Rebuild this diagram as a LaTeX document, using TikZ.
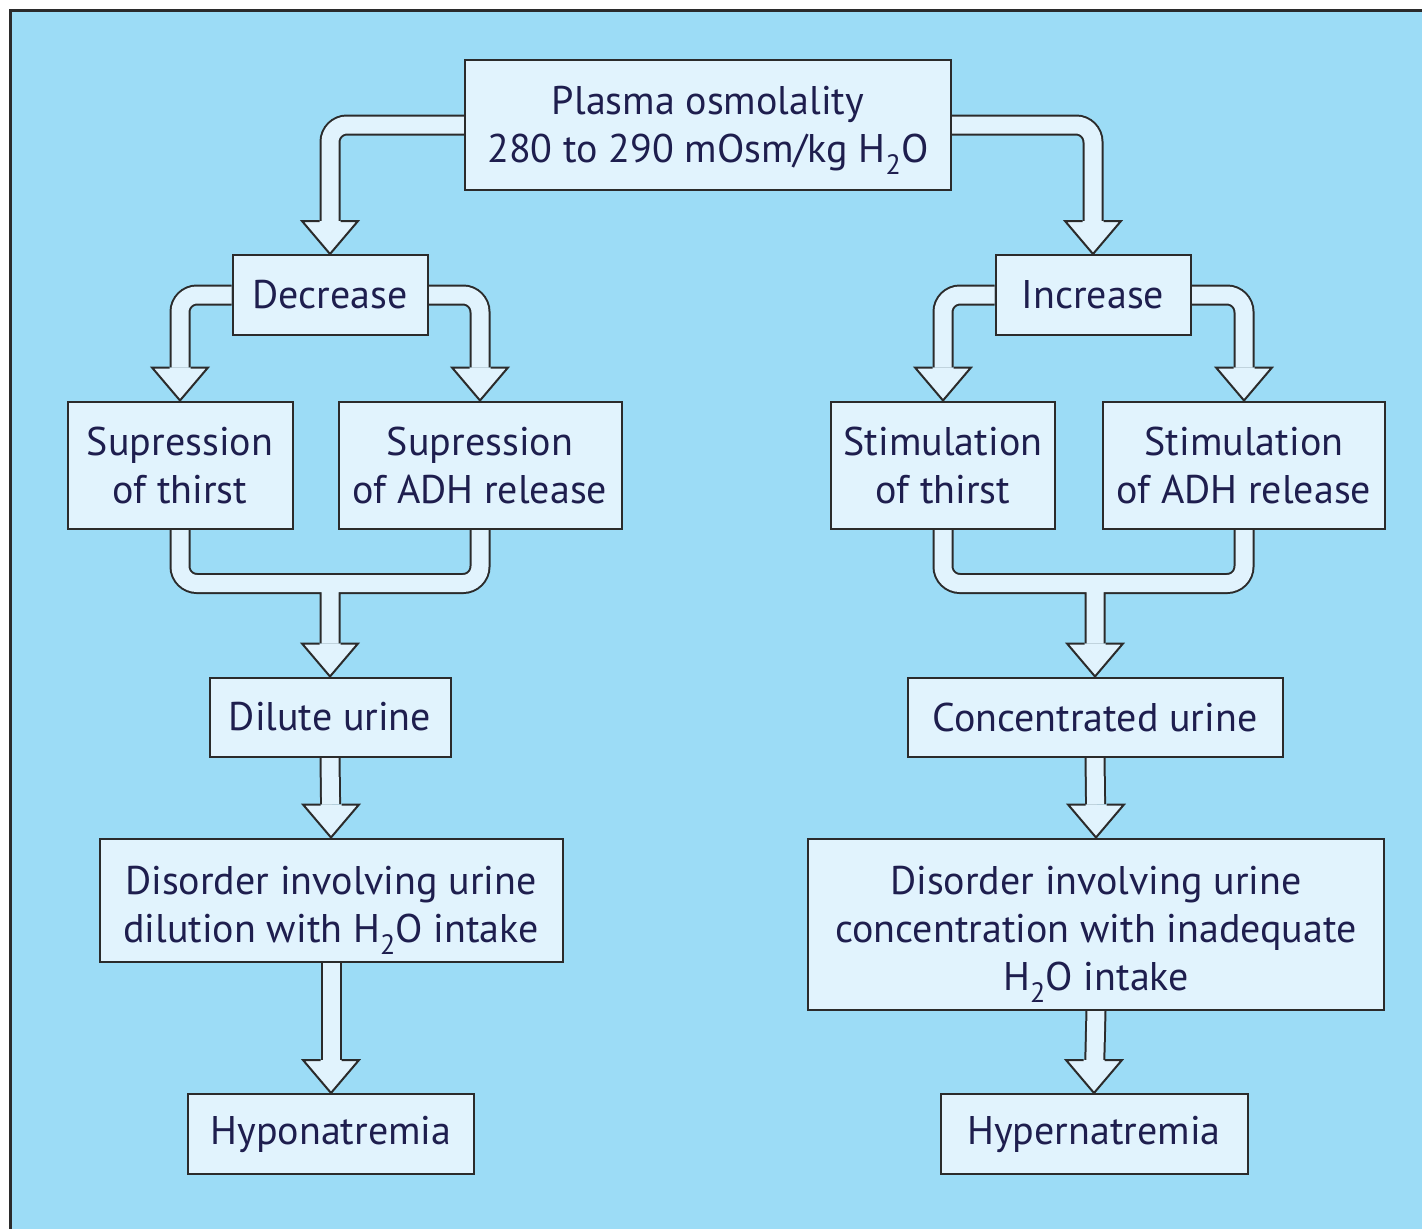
\documentclass[tikz,border=0pt]{standalone}
\usepackage{fontspec}
\setmainfont{PT Sans}
\usetikzlibrary{calc,backgrounds}

\definecolor{panelblue}{HTML}{9CDCF6}
\definecolor{boxfill}{HTML}{E1F3FD}
\definecolor{linecol}{HTML}{2B2B2B}
\definecolor{textcol}{HTML}{1E1E4E}

\tikzset{
  box/.style={draw=linecol, line width=2pt, fill=boxfill, text=textcol, align=center,
    inner sep=0pt, font=\fontsize{40}{48}\selectfont},
  pipe/.style={draw=linecol, line width=2pt, double=boxfill, double distance=17pt,
    rounded corners=17pt},
}
% taller first line, pushes the text down a little
\newcommand\lift[1]{\rule{0pt}{#1}}
% hollow arrow head, tip on #1
\newcommand\pipehead[1]{%
  \fill[boxfill] (#1) -- ++(-28,-33) -- ++(56,0) -- cycle;
  \draw[linecol, line width=2pt] ($(#1)+(-10.5,-33)$) -- ++(-17.5,0) -- (#1) -- ++(28,-33) -- ++(-17.5,0);
}

\begin{document}
\begin{tikzpicture}[x=1pt,y=-1pt]
\useasboundingbox (0,0) rectangle (1422,1229);

\node[box, minimum width=486, minimum height=130] (top) at (708,125) {\lift{39pt}Plasma osmolality\\280 to 290 mOsm/kg H\textsubscript{2}O};
\node[box, minimum width=195, minimum height=80] (dec) at (330,295) {Decrease};
\node[box, minimum width=195, minimum height=80] (inc) at (1093,295) {Increase};
\node[box, minimum width=225, minimum height=127] (st) at (180,465) {Supression\\of thirst};
\node[box, minimum width=283, minimum height=127] (sa) at (480,465) {Supression\\of ADH release};
\node[box, minimum width=224, minimum height=127] (tt) at (943,465) {Stimulation\\of thirst};
\node[box, minimum width=282, minimum height=127] (ta) at (1244,465) {Stimulation\\of ADH release};
\node[box, minimum width=241, minimum height=79] (dil) at (330,717) {Dilute urine};
\node[box, minimum width=375, minimum height=79] (conc) at (1095,717) {Concentrated urine};
\node[box, minimum width=463, minimum height=123] (disL) at (331,900) {\lift{49pt}Disorder involving urine\\dilution with H\textsubscript{2}O intake};
\node[box, minimum width=576, minimum height=171] (disR) at (1096,924) {\lift{49pt}Disorder involving urine\\concentration with inadequate\\H\textsubscript{2}O intake};
\node[box, minimum width=286, minimum height=80] (hypo) at (331,1134) {Hyponatremia};
\node[box, minimum width=307, minimum height=80] (hyper) at (1094,1134) {Hypernatremia};

\coordinate (jl) at ($(dil.north)+(0,-93)$);
\coordinate (jr) at ($(conc.north)+(0,-93)$);

\begin{scope}[on background layer]
\fill[panelblue] (10,10) rectangle (1422,1229);
\draw[linecol, line width=3pt] (10,1229) -- (10,10) -- (1422,10);

\draw[pipe, shorten >=33pt] (top.west) -| (dec.north); \pipehead{dec.north}
\draw[pipe, shorten >=33pt] (top.east) -| (inc.north); \pipehead{inc.north}
\draw[pipe, shorten >=33pt] (dec.west) -| (st.north); \pipehead{st.north}
\draw[pipe, shorten >=33pt] (dec.east) -| (sa.north); \pipehead{sa.north}
\draw[pipe, shorten >=33pt] (inc.west) -| (tt.north); \pipehead{tt.north}
\draw[pipe, shorten >=33pt] (inc.east) -| (ta.north); \pipehead{ta.north}

\draw[pipe, shorten >=33pt] (st.south) |- (jl) -| (sa.south) (jl) -- (dil.north); \pipehead{dil.north}
\draw[pipe, shorten >=33pt] (tt.south) |- (jr) -| (ta.south) (jr) -- (conc.north); \pipehead{conc.north}

\draw[pipe, shorten >=33pt] (dil.south) -- (disL.north); \pipehead{disL.north}
\draw[pipe, shorten >=33pt] (disL.south) -- (hypo.north); \pipehead{hypo.north}
\draw[pipe, shorten >=33pt] (conc.south) -- (disR.north); \pipehead{disR.north}
\draw[pipe, shorten >=33pt] (disR.south) -- (hyper.north); \pipehead{hyper.north}
\end{scope}
\end{tikzpicture}
\end{document}
